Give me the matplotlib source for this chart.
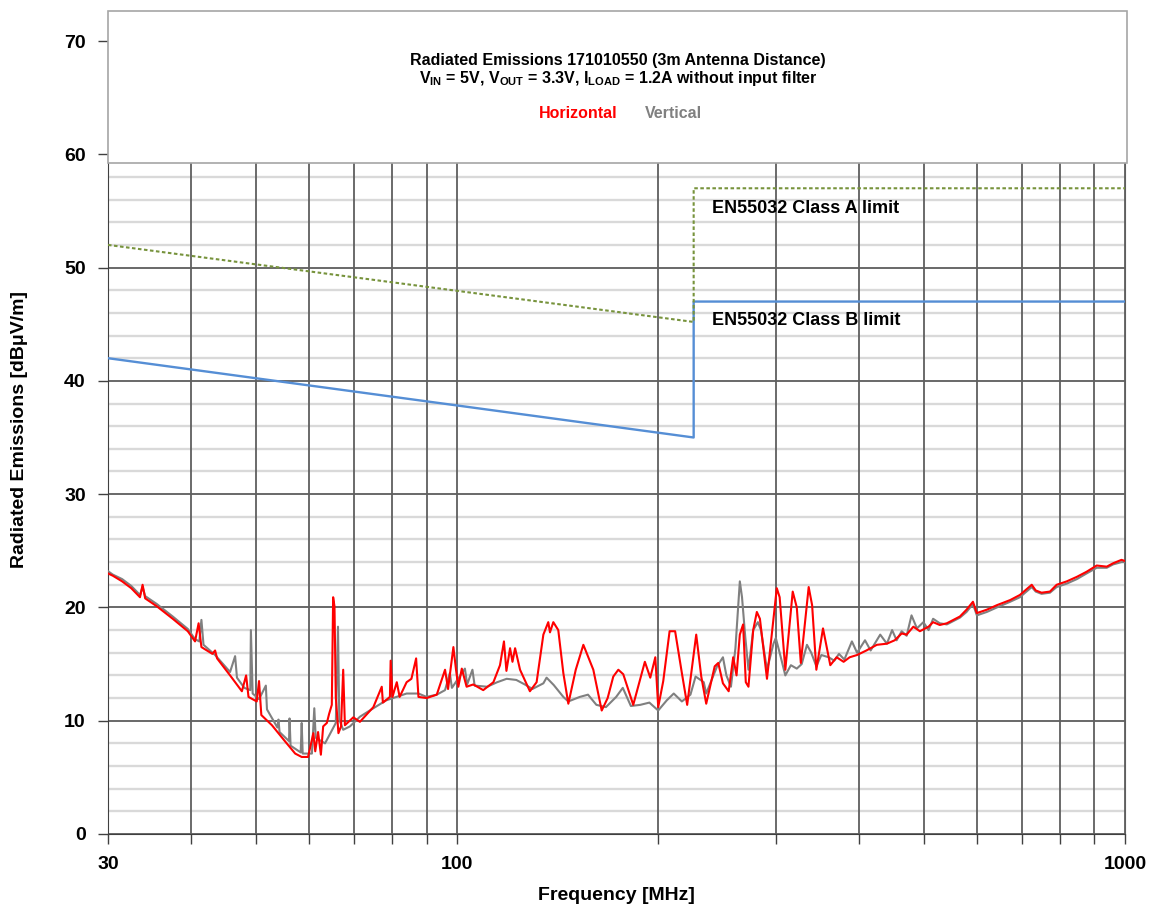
import numpy as np
import matplotlib.pyplot as plt
from matplotlib.patches import Rectangle
from matplotlib.ticker import FixedLocator, NullLocator

plt.rcParams['font.family'] = ['Liberation Sans', 'DejaVu Sans']
plt.rcParams['font.weight'] = 'bold'
plt.rcParams['mathtext.fontset'] = 'custom'
plt.rcParams['mathtext.rm'] = 'Liberation Sans:bold'
plt.rcParams['mathtext.bf'] = 'Liberation Sans:bold'

# Horizontal antenna polarisation (MHz, dBuV/m)
horiz_f = [30, 30.5, 31.5, 32.5, 33.5, 33.8, 34.1, 35.5, 37.5, 39.5, 40.5, 41.0, 41.4,
           43.0, 43.4, 43.7, 45.7, 47.6, 48.3, 48.7, 50.1, 50.5, 50.9, 52.8, 55.2,
           57.2, 58.5, 59.8, 60.9, 61.3, 61.9, 62.5, 63.0, 63.8, 64.3, 64.9, 65.2,
           65.5, 65.8, 66.4, 67.0, 67.5, 67.9, 69.9, 71.5, 74.9, 77.1, 77.4, 79.3,
           79.5, 80.0, 81.2, 82.0, 84.0, 85.4, 86.8, 87.5, 90.0, 93.2, 95.9, 96.9,
           98.7, 99.6, 100.4, 101.6, 103.3, 105.7, 109.4, 113.3, 115.9, 117.5, 118.5,
           120.0, 121.0, 122.1, 124.2, 128.5, 131.5, 134.6, 136.9, 137.7, 139.3,
           141.7, 144.2, 146.7, 150.5, 154.5, 159.9, 164.6, 168.0, 171.3, 174.3,
           177.3, 183.5, 191.0, 194.6, 198.0, 200.0, 203.5, 208.0, 212.0, 217.0,
           221.0, 228.0, 232.0, 236.0, 243.0, 246.0, 250.0, 255.0, 259.0, 262.0,
           265.0, 268.0, 270.5, 273.0, 277.5, 281.0, 284.0, 291.0, 301.0, 304.0,
           310.0, 318.0, 322.5, 327.0, 336.0, 340.0, 345.0, 353.0, 362.0, 370.0,
           379.0, 387.0, 397.0, 410.0, 425.0, 440.0, 452.0, 463.0, 471.0, 482.0,
           493.0, 508.0, 516.0, 528.0, 541.0, 566.0, 579.0, 592.0, 600.0, 621.0,
           643.0, 673.0, 696.0, 725.0, 735.0, 750.0, 772.0, 790.0, 818.0, 847.0,
           876.0, 907.0, 939.0, 960.0, 988.0, 1000.0]
horiz_db = [23.0, 22.8, 22.3, 21.7, 20.9, 22.0, 20.8, 20.1, 19.0, 17.9, 17.0, 18.6, 16.5,
            15.9, 16.2, 15.5, 14.0, 12.6, 14.0, 12.1, 11.7, 13.5, 10.5, 9.6, 8.2,
            7.1, 6.8, 6.8, 8.9, 7.3, 9.0, 7.0, 9.5, 9.8, 10.6, 11.4, 20.9,
            20.1, 12.1, 8.9, 9.5, 14.5, 9.6, 10.3, 9.9, 11.2, 13.0, 11.6, 12.1,
            15.3, 12.1, 13.4, 12.1, 13.4, 13.7, 15.5, 12.1, 12.0, 12.3, 14.5, 12.8,
            16.5, 14.5, 13.0, 14.6, 13.0, 13.2, 12.7, 13.4, 14.9, 17.0, 14.4,
            16.4, 15.2, 16.4, 14.5, 12.6, 13.4, 17.6, 18.7, 17.8, 18.7,
            18.0, 14.2, 11.5, 14.5, 16.7, 14.5, 10.9, 12.0, 13.9, 14.5,
            14.1, 11.4, 15.2, 13.8, 15.6, 11.2, 13.5, 17.9, 17.9, 14.2,
            11.4, 17.6, 13.9, 11.5, 14.8, 15.1, 13.3, 12.6, 15.6, 14.0,
            17.6, 18.5, 13.4, 13.0, 18.0, 19.6, 19.0, 13.7, 21.7, 20.9,
            14.5, 21.4, 20.0, 15.1, 21.8, 20.2, 14.5, 18.15, 14.9, 15.6,
            15.2, 15.6, 15.8, 16.2, 16.7, 16.8, 17.1, 17.7, 17.6, 18.3,
            17.9, 18.3, 18.7, 18.45, 18.6, 19.2, 19.8, 20.5, 19.5, 19.8,
            20.2, 20.65, 21.1, 22.0, 21.5, 21.3, 21.4, 22.0, 22.3, 22.7,
            23.15, 23.7, 23.6, 23.9, 24.2, 24.1]

# Vertical antenna polarisation
vert_f = [30, 30.5, 31.5, 32.5, 33.5, 33.8, 34.1, 35.5, 37.5, 39.5, 40.5, 41.1, 41.4,
          41.7, 43.4, 45.7, 46.5, 46.8, 48.0, 49.0, 49.1, 49.4, 50.5, 51.7, 51.9,
          53.8, 54.0, 54.2, 56.0, 56.1, 56.3, 58.3, 58.5, 58.7, 60.6, 61.1, 61.4,
          63.4, 65.8, 66.3, 66.6, 67.5, 69.1, 71.5, 74.9, 78.3, 84.0, 87.5, 90.0,
          93.2, 95.9, 97.5, 98.2, 102.7, 103.5, 105.4, 106.2, 110.9, 114.8, 118.6,
          122.6, 126.7, 129.6, 134.6, 136.1, 139.5, 144.2, 146.7, 152.6, 157.0,
          161.6, 167.0, 173.0, 177.0, 182.0, 188.0, 194.0, 200.0, 206.0, 211.0,
          217.0, 223.5, 227.5, 234.0, 236.0, 245.0, 250.0, 253.0, 257.0, 261.0,
          265.0, 267.0, 270.0, 273.0, 277.5, 282.0, 285.0, 291.0, 297.6, 300.0,
          304.0, 310.0, 316.0, 322.5, 328.0, 334.0, 339.0, 345.0, 351.0, 360.0,
          367.0, 373.0, 380.0, 390.0, 397.0, 408.0, 416.0, 430.0, 440.0, 448.0,
          455.0, 463.0, 471.0, 479.0, 488.0, 499.0, 508.0, 516.0, 528.0, 541.0,
          566.0, 579.0, 592.0, 600.0, 621.0, 643.0, 673.0, 696.0, 725.0, 735.0,
          750.0, 772.0, 790.0, 818.0, 847.0, 876.0, 907.0, 939.0, 960.0, 988.0, 1000.0]
vert_db = [23.2, 22.9, 22.5, 21.9, 21.1, 21.8, 21.0, 20.3, 19.2, 18.1, 17.2, 17.0, 18.9,
           16.7, 15.8, 14.3, 15.7, 13.8, 12.9, 12.7, 18.0, 12.4, 11.9, 13.1, 11.0,
           9.4, 10.1, 9.0, 8.2, 10.2, 7.8, 7.2, 9.8, 7.1, 7.1, 11.1, 8.5,
           8.0, 9.8, 18.3, 10.1, 9.2, 9.5, 10.35, 11.1, 11.8, 12.4, 12.4, 12.1,
           12.3, 12.7, 14.2, 12.9, 14.6, 13.2, 14.5, 13.1, 13.0, 13.4, 13.7,
           13.6, 13.15, 12.8, 13.3, 13.8, 13.15, 12.1, 11.7, 12.1, 12.3,
           11.4, 11.2, 12.1, 12.9, 11.3, 11.4, 11.6, 10.9, 11.8, 12.4,
           11.7, 12.3, 13.9, 13.4, 12.4, 14.8, 15.6, 14.0, 13.0, 16.4,
           22.3, 20.9, 17.4, 14.5, 18.0, 18.7, 18.0, 14.5, 16.8, 17.3,
           16.0, 14.0, 14.9, 14.6, 15.0, 16.7, 16.0, 14.8, 15.8, 15.6,
           15.3, 15.9, 15.4, 17.0, 16.0, 17.1, 16.2, 17.6, 16.8, 18.0,
           17.1, 17.9, 17.5, 19.3, 18.15, 18.7, 18.0, 19.0, 18.6, 18.5,
           19.1, 19.6, 20.3, 19.3, 19.6, 20.0, 20.5, 20.9, 21.8, 21.4,
           21.2, 21.3, 21.8, 22.1, 22.5, 23.0, 23.5, 23.5, 23.8, 24.0, 24.0]

# EN55032 limits
limA_f = [30, 226, 226, 1000]
limA_db = [52, 45.2, 57, 57]
limB_f = [30, 226, 226, 1000]
limB_db = [42, 35, 47, 47]

fig = plt.figure(figsize=(11.53, 9.07), dpi=100)
ax = fig.add_axes([108/1153, 73/907, 1017/1153, 793/907])

ax.plot(vert_f, vert_db, color='#808080', lw=1.5, zorder=3)
ax.plot(horiz_f, horiz_db, color='#ff0000', lw=1.5, zorder=4)
ax.plot(limB_f, limB_db, color='#558ed5', lw=1.7, zorder=5)
ax.plot(limA_f, limA_db, color='#77933c', lw=1.5, ls=(0, (1.7, 1.2)), zorder=5)

ax.text(241, 55.2, 'EN55032 Class A limit', fontsize=13, fontweight='bold', va='center', zorder=6)
ax.text(241, 45.3, 'EN55032 Class B limit', fontsize=13, fontweight='bold', va='center', zorder=6)

ax.set_xscale('log')
ax.set_xlim(30, 1000)
ax.set_ylim(0, 70)

xt = [30, 40, 50, 60, 70, 80, 90, 100, 200, 300, 400, 500, 600, 700, 800, 900, 1000]
ax.xaxis.set_major_locator(FixedLocator(xt))
ax.xaxis.set_minor_locator(NullLocator())
ax.set_xticklabels([str(v) if v in (30, 100, 1000) else '' for v in xt])
ax.set_yticks(range(0, 71, 10))
ax.set_yticks([v for v in range(2, 70, 2) if v % 10], minor=True)

ax.grid(True, which='major', axis='x', color='#5f5f5f', lw=1.3)
ax.grid(True, which='major', axis='y', color='#404040', lw=1.1)
ax.grid(True, which='minor', axis='y', color='#d9d9d9', lw=1.7)
ax.set_axisbelow(True)
# vertical lines above the light horizontal ones
ax.yaxis.set_zorder(0.3)
ax.xaxis.set_zorder(0.4)
ax.tick_params(axis='y', which='minor', length=0)
ax.tick_params(which='major', length=7, width=1, color='#404040', labelsize=14, pad=9)

ax.spines['top'].set_visible(False)
for s in ['left', 'bottom']:
    ax.spines[s].set_color('#404040')
ax.spines['right'].set_color('#5f5f5f')

for lab in ax.get_xticklabels() + ax.get_yticklabels():
    lab.set_fontweight('bold')

fig.text(616.5/1153, 1 - 896/907, 'Frequency [MHz]', fontsize=14, fontweight='bold', ha='center', va='center')
fig.text(20/1153, 1 - 430/907, 'Radiated Emissions [dBμV/m]', fontsize=14, fontweight='bold',
         ha='center', va='center', rotation=90)

# title / legend box on top of the plot
box = Rectangle((108/1153, 1 - 163/907), 1019/1153, 152/907, transform=fig.transFigure,
                facecolor='white', edgecolor='#a6a6a6', lw=1.2, zorder=10)
fig.add_artist(box)
fig.text(618/1153, 1 - 60/907, 'Radiated Emissions 171010550 (3m Antenna Distance)',
         fontsize=11.5, fontweight='bold', ha='center', va='center', zorder=11)
fig.text(618/1153, 1 - 78/907,
         r'V$_\mathrm{IN}$ = 5V, V$_\mathrm{OUT}$ = 3.3V, I$_\mathrm{LOAD}$ = 1.2A without input filter',
         fontsize=11.5, fontweight='bold', ha='center', va='center', zorder=11)
fig.text(578/1153, 1 - 114/907, 'Horizontal', color='#ff0000', fontsize=11.5, fontweight='bold',
         ha='center', va='center', zorder=11)
fig.text(673/1153, 1 - 114/907, 'Vertical', color='#808080', fontsize=11.5, fontweight='bold',
         ha='center', va='center', zorder=11)

plt.savefig('out.png', dpi=100)
